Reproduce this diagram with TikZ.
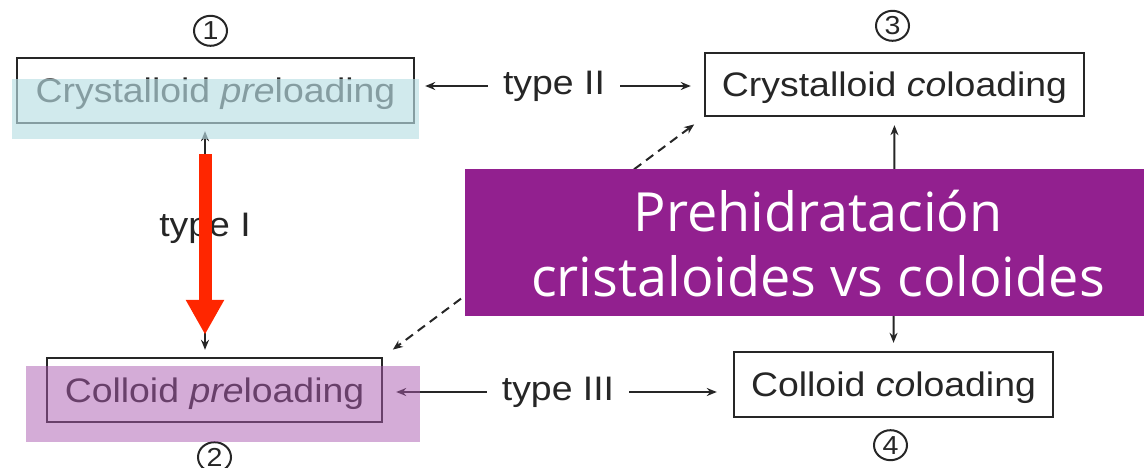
\documentclass[tikz,border=0pt]{standalone}
\usepackage{fontspec}
\usepackage{tikz}
\usetikzlibrary{arrows.meta,positioning,shapes.geometric}
\newfontfamily\scanfont{Liberation Sans}[FakeStretch=1.1]
\newfontfamily\titlefont{Open Sans}
\definecolor{tinta}{HTML}{262626}
\definecolor{morado}{HTML}{92208F}
\definecolor{rojo}{HTML}{FF2600}
\definecolor{turquesa}{RGB}{185,222,228}
\definecolor{lila}{RGB}{170,90,175}
\tikzset{
  caja/.style={rectangle, draw=tinta, line width=2.4pt, text=tinta, inner sep=0pt,
               text depth=0pt, font=\scanfont\fontsize{34}{40}\selectfont},
  tipo/.style={text=tinta, inner xsep=15pt, font=\scanfont\fontsize{34}{40}\selectfont},
  num/.style={ellipse, draw=tinta, line width=2pt, minimum width=33pt, minimum height=30pt,
              inner sep=0pt, text=tinta, font=\scanfont\fontsize{26}{26}\selectfont},
  flecha/.style={-{Stealth[length=10pt,width=8pt]}, line width=2pt, draw=tinta},
  doble/.style={{Stealth[length=10pt,width=8pt]}-{Stealth[length=10pt,width=8pt]},
                line width=2pt, draw=tinta},
  roja/.style={-{Triangle[length=35pt,width=36pt]}, line width=13pt, draw=rojo},
  titulo/.style={text=white, align=center, font=\titlefont\fontsize{54}{65}\selectfont},
}

\begin{document}
\begin{tikzpicture}[x=1pt, y=-1pt]
  \useasboundingbox (0,0) rectangle (1144,468);
  % las cuatro estrategias
  \node[caja, minimum width=397pt, minimum height=65pt] (b1) at (215.5,90.5)
    {Crystalloid \textit{pre}loading};
  \node[caja, minimum width=335pt, minimum height=64pt] (b2) at (214.5,390)
    {Colloid \textit{pre}loading};
  \node[caja, minimum width=379pt, minimum height=63pt] (b3) at (894.5,84.5)
    {Crystalloid \textit{co}loading};
  \node[caja, minimum width=319pt, minimum height=65pt] (b4) at (893.5,384.5)
    {Colloid \textit{co}loading};
  \node[num, above=10pt of b1, xshift=-5pt] (n1) {1};
  \node[num, below=18pt of b2] (n2) {2};
  \node[num, above=10pt of b3, xshift=-2pt] (n3) {3};
  \node[num, below=11pt of b4, xshift=-3pt] (n4) {4};

  % tipos de comparacion
  \node[tipo] (t1) at (205,228) {type I};
  \node[tipo] (t2) at (554,86) {type II};
  \node[tipo] (t3) at (558,392) {type III};
  \draw[doble, shorten <=7pt, shorten >=7pt] (b1.south -| t1) -- (b2.north -| t1);
  \draw[flecha, shorten >=10pt] (t2.west) -- (t2.west -| b1.east);
  \draw[flecha, shorten >=13pt] (t2.east) -- (t2.east -| b3.west);
  \draw[flecha, shorten >=13pt] (t3.west) -- (t3.west -| b2.east);
  \draw[flecha, shorten >=16pt] (t3.east) -- (t3.east -| b4.west);
  \draw[doble, shorten <=8pt, shorten >=8pt] (b3.south) -- (b4.north);
  \draw[doble, dashed, dash pattern=on 9pt off 6pt, shorten <=12pt, shorten >=12pt]
    (b3.south west) -- (b2.north east);

  % resaltados
  \fill[turquesa, fill opacity=0.65] (12,79) rectangle (419,139);
  \fill[lila, fill opacity=0.5] (26,366) rectangle (420,442);
  \draw[roja, shorten <=30pt, shorten >=22pt] (b1.south -| t1) -- (b2.north -| t1);

  % recuadro del titulo
  \fill[morado] (465,169) rectangle (1144,316);
  \node[titulo] (tit) at (818,244) {Prehidratación\\cristaloides vs coloides};
\end{tikzpicture}
\end{document}
